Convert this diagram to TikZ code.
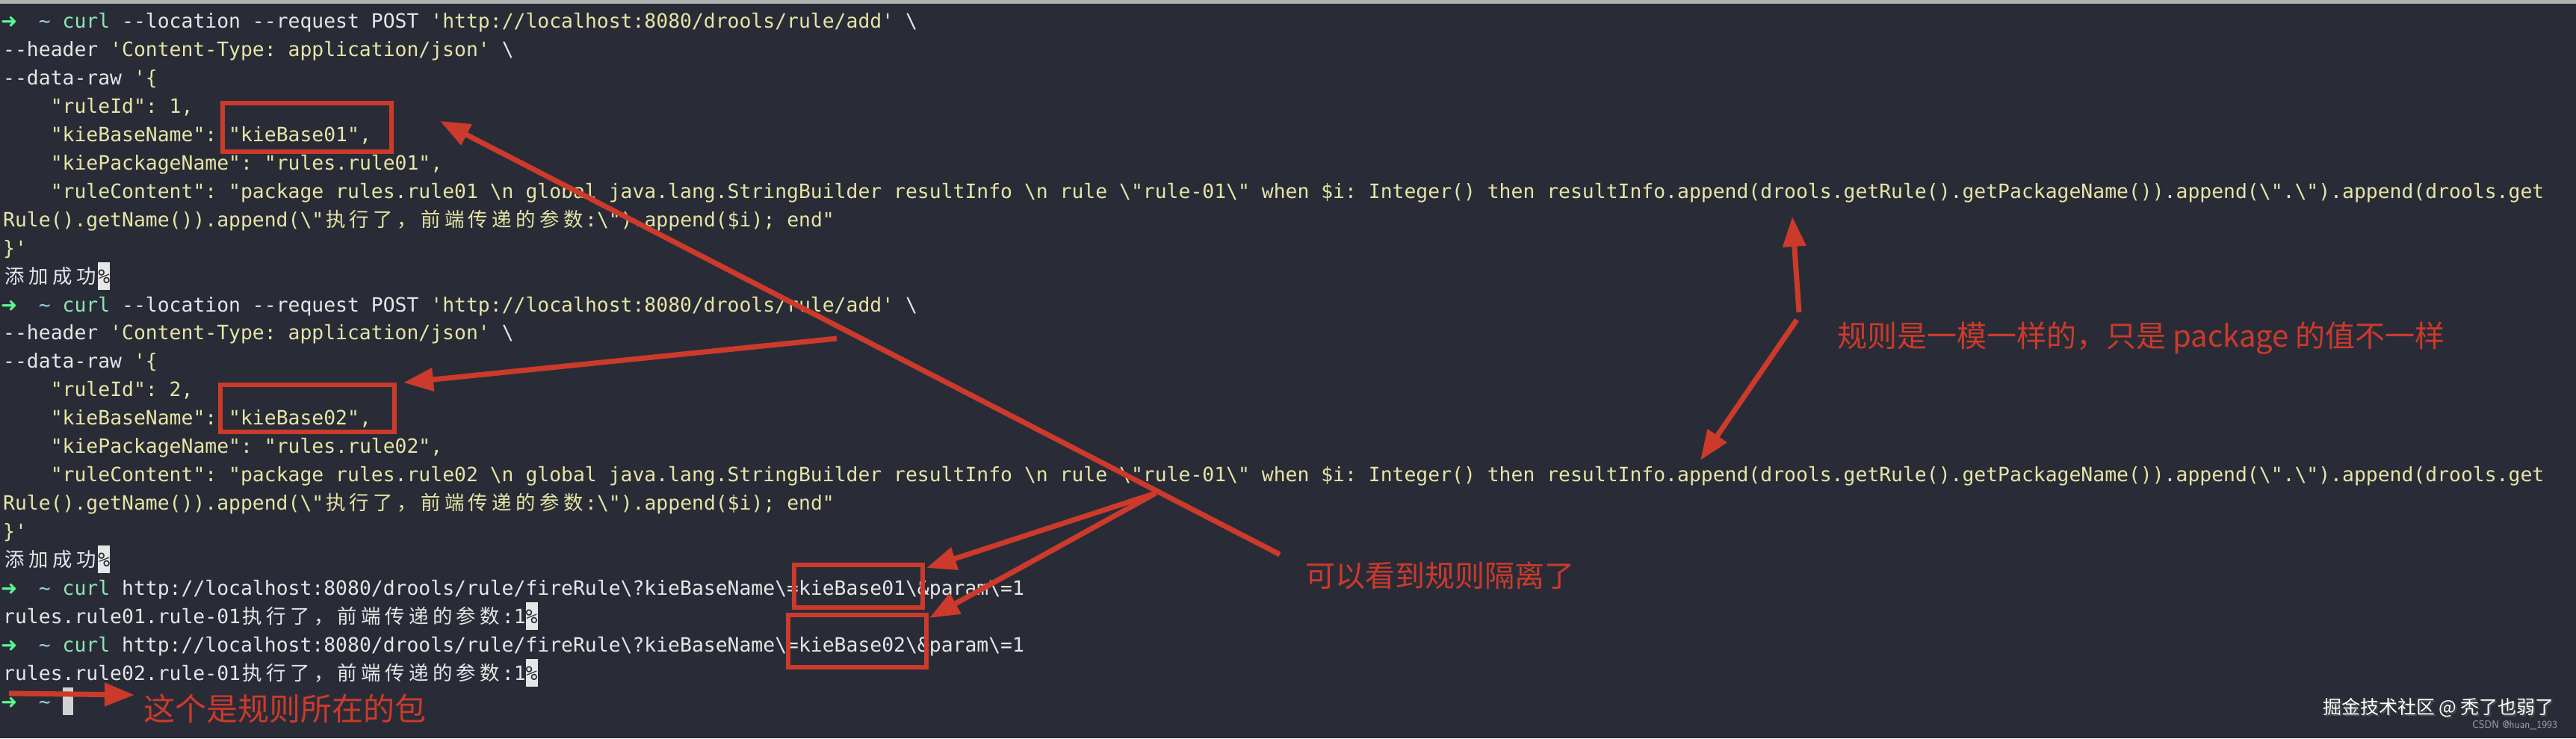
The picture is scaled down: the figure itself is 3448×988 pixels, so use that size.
\documentclass[tikz,border=0pt]{standalone}
\usepackage{fontspec}
\usetikzlibrary{arrows.meta}
\setmonofont{DejaVu Sans Mono}
\newfontfamily\cjkf{Noto Sans CJK SC}
\newfontfamily\djs{DejaVu Sans}
\definecolor{bg}{HTML}{292C37}
\definecolor{ty}{HTML}{E6E5A6}
\definecolor{tw}{HTML}{E6E6E6}
\definecolor{tg}{HTML}{5AF78E}
\definecolor{tc}{HTML}{8EE6B4}
\definecolor{tt}{HTML}{9CCFE6}
\definecolor{rd}{HTML}{CC3A2B}
\newcommand\Y[1]{\textcolor{ty}{#1}}
\newcommand\W[1]{\textcolor{tw}{#1}}
\newcommand\cw[1]{\makebox[31.8pt]{\cjkf #1}}
\newcommand\zx{\cw{执}\cw{行}\cw{了}\cw{，}\cw{前}\cw{端}\cw{传}\cw{递}\cw{的}\cw{参}\cw{数}}
\newcommand\tj{\cw{添}\cw{加}\cw{成}\cw{功}}
\newcommand\hl[1]{{\fboxsep=0pt\colorbox{tw}{\rule[-9pt]{0pt}{37pt}\textcolor{bg}{#1}}}}
\newcommand\pr{\makebox[15.9pt]{\djs\textcolor{tg}{➜}}\ \ \textcolor{tt}{\textasciitilde}\ }
\newcommand\ind{\hspace*{63.6pt}}
\begin{document}
\begin{tikzpicture}[x=1pt,y=-1pt,
  term/.style={anchor=base west,inner sep=0pt,font=\fontsize{26.4}{30}\ttfamily,text=ty},
  redbox/.style={draw=rd,line width=6pt},
  redarrow/.style={draw=rd,line width=7pt,-{Triangle[length=40pt,width=30pt]}},
  note/.style={text=rd,inner sep=0pt,font=\fontsize{40}{44}\cjkf},
  wm/.style={inner sep=0pt,text=white}]
\useasboundingbox (0,0) rectangle (3448,988);
\fill[bg] (0,0) rectangle (3448,988);
\fill[gray!60] (0,0) rectangle (3448,5);
% lines
\node[term] (l1) at (4,37) {\pr\textcolor{tc}{curl} \W{--location --request POST} \Y{'http://localhost:8080/drools/rule/add'} \W{\textbackslash}};
\node[term] (l2) at (4,75) {\W{--header} 'Content-Type: application/json' \W{\textbackslash}};
\node[term] (l3) at (4,113) {\W{--data-raw} '\{};
\node[term] (l4) at (4,151) {\ind"ruleId": 1,};
\node[term] (l5) at (4,189) {\ind"kieBaseName": "kieBase01",};
\node[term] (l6) at (4,227) {\ind"kiePackageName": "rules.rule01",};
\node[term] (l7) at (4,265) {\ind"ruleContent": "package rules.rule01 \textbackslash n global java.lang.StringBuilder resultInfo \textbackslash n rule \textbackslash"rule-01\textbackslash" when \$i: Integer() then resultInfo.append(drools.getRule().getPackageName()).append(\textbackslash".\textbackslash").append(drools.get};
\node[term] (l8) at (4,303) {Rule().getName()).append(\textbackslash"\zx:\textbackslash").append(\$i); end"};
\node[term] (l9) at (4,341) {\}'};
\node[term,text=tw] (l10) at (4,379) {\tj\hl{\%}};
\node[term] (l11) at (4,417) {\pr\textcolor{tc}{curl} \W{--location --request POST} \Y{'http://localhost:8080/drools/rule/add'} \W{\textbackslash}};
\node[term] (l12) at (4,454) {\W{--header} 'Content-Type: application/json' \W{\textbackslash}};
\node[term] (l13) at (4,492) {\W{--data-raw} '\{};
\node[term] (l14) at (4,530) {\ind"ruleId": 2,};
\node[term] (l15) at (4,568) {\ind"kieBaseName": "kieBase02",};
\node[term] (l16) at (4,606) {\ind"kiePackageName": "rules.rule02",};
\node[term] (l17) at (4,644) {\ind"ruleContent": "package rules.rule02 \textbackslash n global java.lang.StringBuilder resultInfo \textbackslash n rule \textbackslash"rule-01\textbackslash" when \$i: Integer() then resultInfo.append(drools.getRule().getPackageName()).append(\textbackslash".\textbackslash").append(drools.get};
\node[term] (l18) at (4,682) {Rule().getName()).append(\textbackslash"\zx:\textbackslash").append(\$i); end"};
\node[term] (l19) at (4,720) {\}'};
\node[term,text=tw] (l20) at (4,758) {\tj\hl{\%}};
\node[term,text=tw] (l21) at (4,796) {\pr\textcolor{tc}{curl} http://localhost:8080/drools/rule/fireRule\textbackslash?kieBaseName\textbackslash=kieBase01\textbackslash\&param\textbackslash=1};
\node[term,text=tw] (l22) at (4,834) {rules.rule01.rule-01\zx:1\hl{\%}};
\node[term,text=tw] (l23) at (4,872) {\pr\textcolor{tc}{curl} http://localhost:8080/drools/rule/fireRule\textbackslash?kieBaseName\textbackslash=kieBase02\textbackslash\&param\textbackslash=1};
\node[term,text=tw] (l24) at (4,910) {rules.rule02.rule-01\zx:1\hl{\%}};
\node[term,text=tw] (l25) at (4,948) {\pr{\fboxsep=0pt\colorbox{gray!35}{\rule[-9pt]{0pt}{37pt}\hspace*{14pt}}}};
% red boxes
\draw[redbox] (298,138) rectangle (524,203);
\draw[redbox] (295,515) rectangle (528,578);
\draw[redbox] (1063,756) rectangle (1235,813);
\draw[redbox] (1055,823) rectangle (1240,893);
% annotations
\node[note] (n1) at (1927,770) {可以看到规则隔离了};
\node[note] (n2) at (2866,453) {规则是一模一样的，只是 package 的值不一样};
\node[note,font=\fontsize{42}{46}\cjkf] (n3) at (381,948) {这个是规则所在的包};
\coordinate (a1s) at (1713,742); \coordinate (a1t) at (589,162);
\coordinate (a2s) at (1120,453); \coordinate (a2t) at (540,512);
\coordinate (a3s) at (1547,660); \coordinate (a3t) at (1240,760); \coordinate (a4t) at (1244,827);
\coordinate (a5s) at (2408,418); \coordinate (a5t) at (2399,290);
\coordinate (a6s) at (2405,428); \coordinate (a6t) at (2276,616);
\coordinate (a7s) at (12,928); \coordinate (a7t) at (180,930);
\draw[redarrow] (a1s) -- (a1t);
\draw[redarrow] (a2s) -- (a2t);
\draw[redarrow] (a3s) -- (a3t);
\draw[redarrow] (a3s) -- (a4t);
\draw[redarrow] (a5s) -- (a5t);
\draw[redarrow] (a6s) -- (a6t);
\draw[redarrow] (a7s) -- (a7t);
% watermark
\node[wm,text=black!70,font=\fontsize{25}{28}\cjkf] at (3266,949) {掘金技术社区 @ 秃了也弱了};
\node[wm,font=\fontsize{25}{28}\cjkf] (w1) at (3264,947) {掘金技术社区 @ 秃了也弱了};
\node[wm,text=gray!70,font=\fontsize{14}{16}\sffamily] (w2) at (3366,971) {CSDN @huan\_1993};
\end{tikzpicture}
\end{document}
